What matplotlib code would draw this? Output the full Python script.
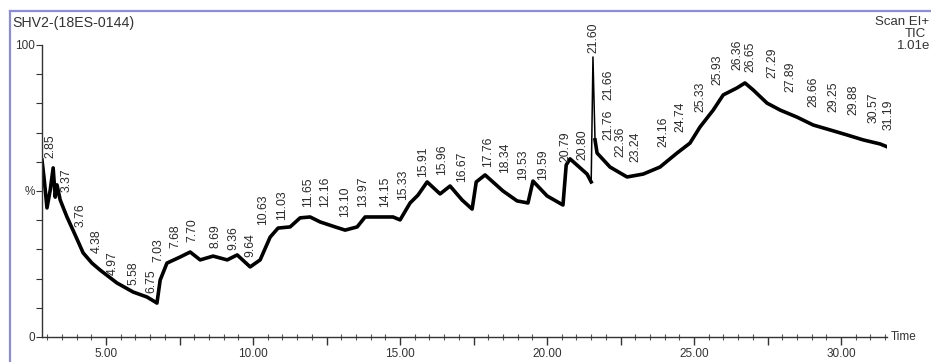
import numpy as np
import matplotlib.pyplot as plt
from matplotlib.lines import Line2D

# TIC trace: retention time (min) and relative abundance (%)
time_min = [2.82, 2.89, 2.99, 3.10, 3.20, 3.27, 3.33, 3.44, 3.67, 3.95,
            4.22, 4.52, 4.80, 5.37, 5.92, 6.39, 6.67, 6.73, 6.84, 7.07,
            7.52, 7.86, 8.20, 8.64, 9.12, 9.46, 9.90, 10.24, 10.58, 10.85,
            11.26, 11.60, 11.94, 12.28, 12.79, 13.13, 13.54, 13.81, 14.32, 14.76,
            15.00, 15.34, 15.61, 15.92, 16.36, 16.70, 17.11, 17.45, 17.59, 17.89,
            18.50, 18.98, 19.35, 19.52, 20.00, 20.54, 20.65, 20.78, 21.36, 21.50,
            21.56, 21.63, 21.70, 22.14, 22.72, 23.27, 23.84, 24.42, 24.86, 25.20,
            25.65, 25.99, 26.46, 26.73, 27.01, 27.48, 27.93, 28.50, 29.05, 29.63,
            30.20, 30.75, 31.33, 31.67]
abundance = [60.6, 54.5, 44.2, 50.3, 57.9, 47.9, 52.1, 46.9, 41.1, 34.9,
             28.8, 25.3, 22.9, 18.5, 15.4, 13.7, 12.0, 11.6, 19.5, 25.3,
             27.4, 29.1, 26.4, 27.7, 26.4, 28.1, 24.0, 26.4, 34.2, 37.3,
             37.7, 40.8, 41.1, 39.4, 37.7, 36.6, 37.7, 41.1, 41.1, 41.1,
             40.1, 45.9, 48.6, 53.1, 49.0, 51.7, 46.9, 43.8, 53.1, 55.5,
             50.0, 46.6, 45.9, 53.4, 48.3, 45.2, 58.9, 61.0, 55.8, 53.1,
             95.9, 67.5, 63.0, 58.2, 54.8, 55.8, 58.2, 63.0, 66.4, 71.9,
             77.7, 82.9, 85.3, 87.0, 84.6, 80.1, 77.7, 75.3, 72.6, 70.9,
             69.2, 67.5, 66.1, 64.7]

# peak retention time labels
peak_labels = ['2.85', '3.37', '3.76', '4.38', '4.97', '5.58', '6.75', '7.03',
               '7.68', '7.70', '8.69', '9.36', '9.64', '10.63', '11.03', '11.65',
               '12.16', '13.10', '13.97', '14.15', '15.33', '15.91', '15.96', '16.67',
               '17.76', '18.34', '19.53', '19.59', '20.79', '20.80', '21.60', '21.76',
               '21.66', '22.36', '23.24', '24.16', '24.74', '25.33', '25.93', '26.36',
               '26.65', '27.29', '27.89', '28.66', '29.25', '29.88', '30.57', '31.19']
# where each label sits (time, %) so they don't overlap
label_x = [3.10, 3.64, 4.12, 4.69, 5.24, 5.92, 6.53, 6.77,
           7.35, 7.93, 8.71, 9.32, 9.90, 10.34, 10.99, 11.87,
           12.45, 13.13, 13.74, 14.49, 15.10, 15.78, 16.43, 17.11,
           17.99, 18.57, 19.18, 19.86, 20.61, 21.19, 21.56, 22.07,
           22.07, 22.48, 22.99, 23.95, 24.52, 25.20, 25.78, 26.46,
           26.90, 27.65, 28.27, 29.05, 29.73, 30.41, 31.09, 31.60]
label_y = [61.3, 49.7, 37.7, 28.8, 21.2, 17.8, 15.1, 25.7,
           30.5, 32.5, 30.5, 29.8, 27.4, 38.4, 40.1, 44.5,
           44.5, 41.1, 44.5, 44.5, 46.9, 54.8, 55.5, 53.1,
           58.2, 56.2, 53.8, 53.8, 59.9, 60.6, 97.3, 67.5,
           81.2, 61.6, 59.9, 65.1, 70.2, 77.1, 86.3, 91.4,
           90.8, 88.7, 83.9, 78.8, 77.1, 76.0, 73.3, 70.9]


def plot_tic(filename):
    """
    Draw the total ion chromatogram with labelled peaks and save it.
    """
    plt.rcParams['font.family'] = ['Liberation Sans', 'DejaVu Sans']
    fig = plt.figure(figsize=(9.31, 3.62), dpi=100)
    ax = fig.add_axes([0.0451, 0.0691, 0.9076, 0.8066])

    t = np.array(time_min)
    a = np.array(abundance)
    top = int(np.argmax(a))
    # broad baseline drawn heavy, the narrow 21.60 spike drawn thin
    thick = a.copy()
    thick[top] = np.nan
    ax.plot(t, thick, c='black', lw=2.6, solid_joinstyle='round')
    ax.plot(t[top - 1:top + 2], a[top - 1:top + 2], c='black', lw=1.1)

    for txt, x, y in zip(peak_labels, label_x, label_y):
        ax.text(x, y, txt, rotation=90, ha='center', va='bottom',
                fontsize=8.8, color='#2a2a2a', clip_on=False)

    ax.set_xlim(2.82, 31.56)
    ax.set_ylim(0, 100)
    for side in ('top', 'right'):
        ax.spines[side].set_visible(False)
    for side in ('left', 'bottom'):
        ax.spines[side].set_color('#333333')
        ax.spines[side].set_linewidth(1.0)

    ax.set_xticks([2.5 * i for i in range(2, 13)])
    ax.set_xticklabels(['%.2f' % (2.5 * i) if i % 2 == 0 else ''
                        for i in range(2, 13)])
    ax.set_xticks([0.5 * i for i in range(6, 64)], minor=True)
    ax.set_yticks(range(0, 101, 10))
    ax.set_yticklabels(['0', '', '', '', '', '%', '', '', '', '', '100'])
    ax.tick_params(axis='x', which='major', length=6, width=1, color='#333333',
                   labelsize=8.5, labelcolor='#333333', pad=2)
    ax.tick_params(axis='x', which='minor', direction='inout', length=4,
                   width=0.8, color='#555555')
    ax.tick_params(axis='y', length=4, width=0.8, color='#333333',
                   labelsize=8.5, labelcolor='#333333', pad=1)

    ax.text(1.004, 0, 'Time', transform=ax.transAxes, ha='left', va='center',
            fontsize=8.5, color='#333333')

    # window frame and header texts
    fig.add_artist(Line2D([0.0107, 1.0], [0.9696, 0.9696], color='#8c8cdc', lw=1.6))
    fig.add_artist(Line2D([0.0107, 0.0107], [0.0, 0.9696], color='#8c8cdc', lw=1.6))
    fig.text(0.013, 0.957, 'SHV2-(18ES-0144)', ha='left', va='top',
             fontsize=10.2, color='#333333')
    fig.text(0.940, 0.955, 'Scan EI+', ha='left', va='top', fontsize=9.5, color='#333333')
    fig.text(0.972, 0.922, 'TIC', ha='left', va='top', fontsize=9.5, color='#333333')
    fig.text(0.963, 0.889, '1.01e', ha='left', va='top', fontsize=9.5, color='#333333')

    fig.savefig(filename, dpi=100)


def main():
    plot_tic('out.png')


if __name__ == "__main__":
    main()
